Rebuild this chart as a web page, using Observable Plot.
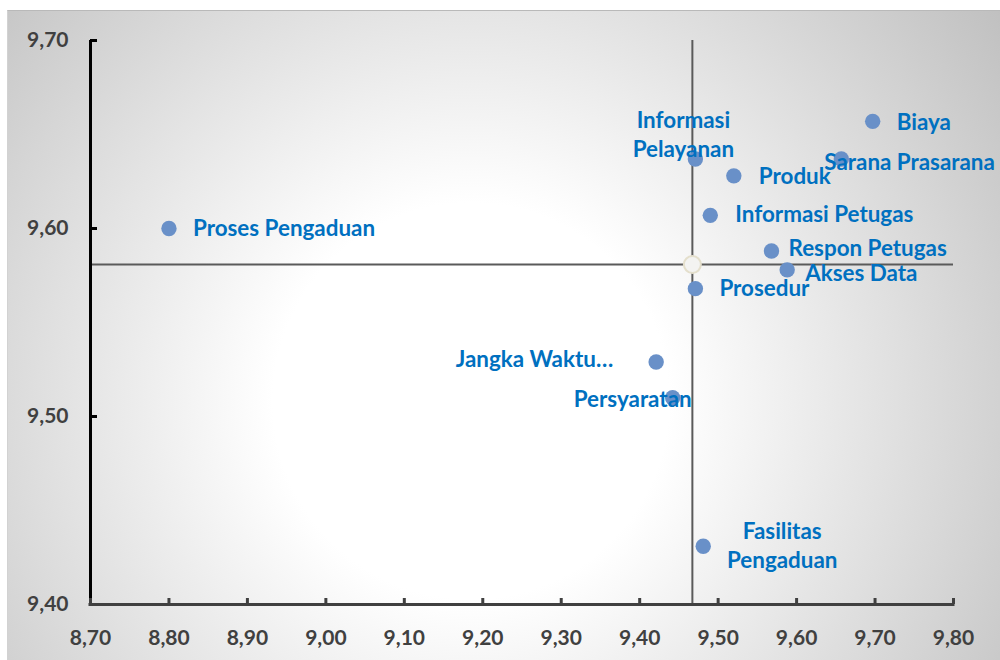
<!DOCTYPE html>
<html><head><meta charset="utf-8">
<script src="https://cdn.jsdelivr.net/npm/d3@7"></script>
<script src="https://cdn.jsdelivr.net/npm/@observablehq/plot@0.6"></script>
<style>
html,body{margin:0;padding:0;background:#fff;}
#wrap{position:relative;width:1000px;height:660px;overflow:hidden;}
#bg{position:absolute;left:7px;top:10px;right:0;bottom:0;border-top:1px solid #b9b9b9;border-left:1px solid #d2d2d2;
background:radial-gradient(circle 660px at 463px 390px,#ffffff 30%,#c0c0c0 100%);}
#chart{position:absolute;left:0;top:0;}
</style></head><body>
<div id="wrap"><div id="bg"></div><div id="chart"></div></div>
<script>
// Data
const categories = ["Proses Pengaduan","Biaya","Sarana Prasarana","Informasi Pelayanan","Produk","Informasi Petugas","Respon Petugas","Akses Data","Prosedur","Jangka Waktu","Persyaratan","Fasilitas Pengaduan"];
const xValues = [8.80, 9.697, 9.657, 9.471, 9.52, 9.49, 9.568, 9.588, 9.471, 9.421, 9.442, 9.481];
const yValues = [9.60, 9.657, 9.637, 9.637, 9.628, 9.607, 9.588, 9.578, 9.568, 9.529, 9.510, 9.431];
const labelTexts = ["Proses Pengaduan","Biaya","Sarana Prasarana","Informasi\nPelayanan","Produk","Informasi Petugas","Respon Petugas","Akses Data","Prosedur","Jangka Waktu…","Persyaratan","Fasilitas\nPengaduan"];
const xTicks = [8.7, 8.8, 8.9, 9.0, 9.1, 9.2, 9.3, 9.4, 9.5, 9.6, 9.7, 9.8];
const yTicks = [9.4, 9.5, 9.6, 9.7];

// Label placement (style, not data): [textAnchor, dx, dy]
const placement = {
  "Proses Pengaduan": ["start", 24, -2],
  "Biaya": ["start", 24, -1],
  "Sarana Prasarana": ["start", -17, 2],
  "Informasi Pelayanan": ["middle", -12, -26],
  "Produk": ["start", 25, -1],
  "Informasi Petugas": ["start", 25, -3],
  "Respon Petugas": ["start", 17, -4],
  "Akses Data": ["start", 18, 2],
  "Prosedur": ["start", 24, -2],
  "Jangka Waktu": ["end", -43, -4],
  "Persyaratan": ["end", 19, 0],
  "Fasilitas Pengaduan": ["middle", 79, -2]
};

const FONT = "Lato, 'Open Sans', sans-serif";
const fmt = d => d.toFixed(2).replace(".", ",");
const data = categories.map((c, i) => ({name: c, x: xValues[i], y: yValues[i], label: labelTexts[i]}));
const mx = d3.mean(xValues), my = d3.mean(yValues);

const labelMarks = data.map(d => {
  const p = placement[d.name];
  return Plot.text([d], {x: "x", y: "y", text: "label", textAnchor: p[0], dx: p[1], dy: p[2],
    fill: "#0070C0", fontWeight: "bold", fontSize: 22.4, lineHeight: 1.31, fontFamily: FONT});
});

const chart = Plot.plot({
  width: 1000, height: 660,
  marginLeft: 90, marginRight: 47, marginTop: 40, marginBottom: 56,
  style: {background: "transparent", fontFamily: FONT, overflow: "visible"},
  x: {domain: [8.7, 9.8], label: null},
  y: {domain: [9.4, 9.7], label: null},
  marks: [
    Plot.ruleY([my], {stroke: "#5a5a5a", strokeWidth: 2}),
    Plot.ruleX([mx], {stroke: "#5a5a5a", strokeWidth: 2}),
    Plot.dot(data, {x: "x", y: "y", r: 7.7, fill: "#6990c8"}),
    Plot.dot([{x: mx, y: my}], {x: "x", y: "y", r: 8.5, fill: "#f3f3f1", stroke: "#e4dfcc", strokeWidth: 2}),
    ...labelMarks,
    Plot.ruleX([8.7], {stroke: "#000", strokeWidth: 3}),
    Plot.axisY({ticks: yTicks, tickSize: 7, dx: 7, fill: "none", stroke: "#000", strokeWidth: 3, label: null}),
    Plot.axisY({ticks: yTicks, tickSize: 0, tickPadding: 22, tickFormat: fmt, fontSize: 21, fontWeight: "bold", fill: "#404040", label: null}),
    Plot.ruleY([9.4], {stroke: "#404040", strokeWidth: 3, strokeLinecap: "square"}),
    Plot.axisX({ticks: xTicks, tickSize: 6, dy: -6, fill: "none", stroke: "#404040", strokeWidth: 3, label: null}),
    Plot.axisX({ticks: xTicks, tickSize: 0, tickPadding: 26, tickFormat: fmt, fontSize: 21, fontWeight: "bold", fill: "#404040", label: null})
  ]
});
document.getElementById("chart").appendChild(chart);
</script>
</body></html>
